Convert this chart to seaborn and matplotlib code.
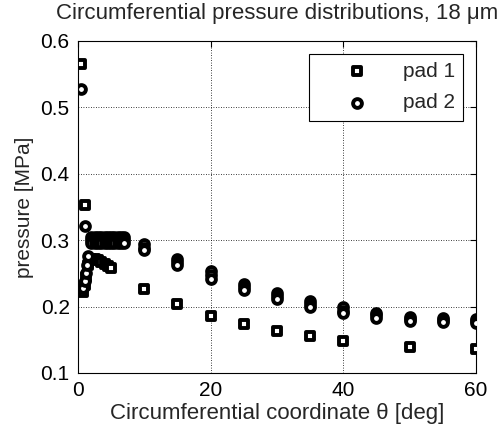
import numpy as np
import pandas as pd
import seaborn as sns
import matplotlib
matplotlib.use("Agg")
import matplotlib.pyplot as plt

# pad 1 (squares)
theta_pad1 = [0.5, 1.0, 0.8, 1.0, 1.2, 1.5, 2.0, 2.5, 3.0, 3.5, 4.0, 4.5, 5.0,
              10, 15, 20, 25, 30, 35, 40, 50, 60]
p_pad1 = [0.565, 0.353, 0.222, 0.232, 0.245, 0.262, 0.272, 0.272, 0.270, 0.267,
          0.264, 0.261, 0.258, 0.227, 0.204, 0.186, 0.174, 0.163, 0.155, 0.148,
          0.139, 0.136]

# pad 2 (circles), three nearly overlapping runs on the main grid
theta_pad2_start = [0.5, 1.0, 0.8, 1.0, 1.2, 1.3, 1.5]
p_pad2_start = [0.527, 0.322, 0.228, 0.238, 0.250, 0.262, 0.276]
theta_pad2_grid = [2.0, 2.5, 3.0, 3.5, 4.0, 4.5, 5.0, 5.5, 6.0, 6.5, 7.0,
                   10, 15, 20, 25, 30, 35, 40, 45, 50, 55, 60]
p_pad2_run_a = [0.305, 0.305, 0.305, 0.305, 0.305, 0.305, 0.305, 0.305, 0.305, 0.305, 0.305,
                0.294, 0.272, 0.254, 0.234, 0.221, 0.209, 0.199, 0.191, 0.185, 0.183, 0.182]
p_pad2_run_b = [0.300, 0.300, 0.300, 0.300, 0.300, 0.300, 0.300, 0.300, 0.300, 0.300, 0.300,
                0.289, 0.267, 0.248, 0.229, 0.216, 0.204, 0.194, 0.187, 0.181, 0.180, 0.178]
p_pad2_run_c = [0.296, 0.296, 0.296, 0.296, 0.296, 0.296, 0.296, 0.296, 0.296, 0.296, 0.296,
                0.285, 0.263, 0.242, 0.225, 0.211, 0.200, 0.190, 0.183, 0.178, 0.177, 0.175]

theta_pad2 = theta_pad2_start + theta_pad2_grid * 3
p_pad2 = p_pad2_start + p_pad2_run_a + p_pad2_run_b + p_pad2_run_c

x_ticks = [0, 20, 40, 60]
y_ticks = [0.1, 0.2, 0.3, 0.4, 0.5, 0.6]

sns.set_theme(style="white")
plt.rcParams["font.family"] = ["Liberation Sans", "DejaVu Sans"]
plt.rcParams["font.size"] = 15

fig = plt.figure(figsize=(5.02, 4.37), dpi=100)
ax = fig.add_axes([78 / 502, 64 / 437, 398 / 502, 332 / 437])

sns.scatterplot(x=theta_pad1, y=p_pad1, marker="s", s=36, color="white",
                edgecolor="black", linewidth=2.8, label="pad 1", ax=ax, zorder=3)
sns.scatterplot(x=theta_pad2, y=p_pad2, marker="o", s=40, color="white",
                edgecolor="black", linewidth=2.8, label="pad 2", ax=ax, zorder=3)

ax.set_xlim(0, 60)
ax.set_ylim(0.1, 0.6)
ax.set_xticks(x_ticks)
ax.set_yticks(y_ticks)
ax.set_xticklabels([str(t) for t in x_ticks])
ax.set_yticklabels([f"{t:.1f}" for t in y_ticks])
ax.tick_params(direction="in", length=4, width=0.8, top=True, right=True,
               labelsize=15, colors="black", pad=6)
ax.grid(True, linestyle=(0, (1, 2)), color="black", linewidth=0.6)
for sp in ax.spines.values():
    sp.set_color("black")
    sp.set_linewidth(0.8)

ax.set_title("Circumferential pressure distributions, 18 \u03bcm", fontsize=16, pad=16)
ax.set_xlabel("Circumferential coordinate \u03b8 [deg]", fontsize=16, labelpad=2)
ax.set_ylabel("pressure [MPa]", fontsize=15, labelpad=5)

leg = ax.legend(loc="upper right", frameon=True, fancybox=False, fontsize=15,
                handlelength=3.8, handletextpad=0.3, borderpad=0.4, labelspacing=0.6,
                borderaxespad=0.6)
leg.get_frame().set_edgecolor("black")
leg.get_frame().set_linewidth(0.8)
leg.get_frame().set_alpha(1)

fig.savefig("out.png", dpi=100)
